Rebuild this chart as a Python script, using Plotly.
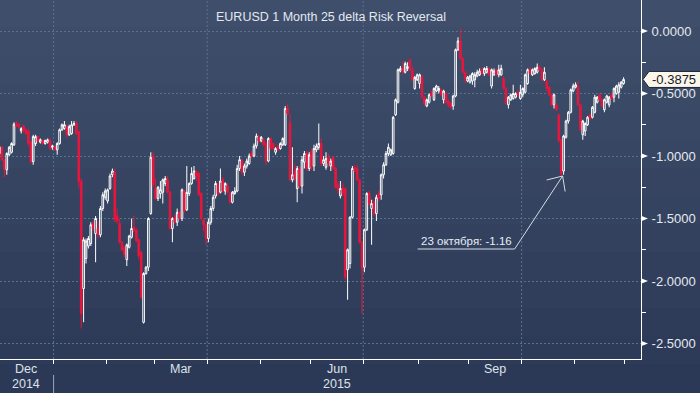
import pandas as pd
import plotly.graph_objects as go

# ------------------------------------------------------------------ data
title_text = "EURUSD 1 Month 25 delta Risk Reversal"
note_text = "23 октября: -1.16"
note_date = "2015-10-23"
last_value = -0.3875
last_label = "-0.3875"

# trading days (weekdays) shown on the chart
axis_dates = pd.bdate_range("2014-12-01", "2015-12-10")

# daily OHLC, one row per month (Dec 2014 ... Nov 2015)
open_ = [
    -0.98, -0.93, -1.03, -1.11, -0.99, -0.97, -0.91, -0.74, -0.745, -0.80, -0.76, -0.79, -0.80, -0.885, -1.045, -0.90, -0.845, -0.89, -0.875, -0.90, -0.89, -0.87, -0.93,
    -0.925, -0.95, -0.90, -0.79, -0.78, -0.765, -0.83, -0.82, -0.75, -0.74, -0.805, -1.20, -2.06, -1.82, -1.72, -1.70, -1.54, -1.62, -1.58, -1.63, -1.42, -1.33,
    -1.36, -1.26, -1.15, -1.13, -1.48, -1.54, -1.69, -1.73, -1.83, -1.73, -1.65, -1.57, -1.59, -1.67, -1.77, -2.33, -1.94, -1.89, -1.46, -1.00,
    -1.26, -1.34, -1.30, -1.29, -1.22, -1.19, -1.29, -1.58, -1.49, -1.53, -1.45, -1.50, -1.28, -1.43, -1.30, -1.22, -1.18, -1.13, -1.14, -1.30, -1.51, -1.55,
    -1.66, -1.53, -1.42, -1.32, -1.23, -1.29, -1.19, -1.28, -1.24, -1.30, -1.37, -1.30, -1.28, -1.10, -1.04, -1.13, -1.08, -1.06, -0.98, -1.00, -0.92, -0.85,
    -0.88, -0.87, -0.90, -1.04, -0.86, -0.90, -0.97, -0.92, -0.94, -0.91, -0.91, -0.62, -0.73, -1.19, -1.12, -1.26, -1.10, -1.24, -1.05, -0.98, -1.10,
    -0.96, -1.08, -0.95, -0.93, -0.90, -1.06, -1.09, -1.01, -1.08, -1.01, -1.10, -1.23, -1.32, -1.26, -1.26, -1.91, -1.86, -1.49, -1.09, -1.10, -1.19, -1.69,
    -1.89, -1.59, -1.30, -1.42, -1.37, -1.46, -1.30, -1.31, -1.15, -1.07, -0.98, -0.99, -0.98, -0.67, -0.57, -0.32, -0.30, -0.33, -0.30, -0.23, -0.31, -0.46, -0.39,
    -0.42, -0.365, -0.53, -0.60, -0.57, -0.49, -0.55, -0.48, -0.48, -0.47, -0.55, -0.50, -0.56, -0.58, -0.60, -0.52, -0.15, -0.08, -0.22, -0.33, -0.40,
    -0.41, -0.40, -0.39, -0.36, -0.35, -0.31, -0.34, -0.33, -0.30, -0.44, -0.35, -0.31, -0.35, -0.35, -0.38, -0.46, -0.59, -0.55, -0.54, -0.53, -0.49, -0.54,
    -0.51, -0.49, -0.42, -0.31, -0.35, -0.34, -0.33, -0.29, -0.31, -0.39, -0.40, -0.45, -0.51, -0.59, -0.59, -0.67, -0.87, -1.12, -0.85, -0.72, -0.65, -0.48,
    -0.45, -0.45, -0.59, -0.83, -0.80, -0.75, -0.67, -0.69, -0.65, -0.57, -0.51, -0.55, -0.63, -0.57, -0.59, -0.51, -0.53, -0.50, -0.49, -0.45, -0.42,
]
high = [
    -0.92, -0.92, -1.02, -0.97, -0.92, -0.89, -0.73, -0.72, -0.74, -0.77, -0.75, -0.78, -0.79, -0.88, -0.83, -0.83, -0.84, -0.86, -0.87, -0.87, -0.86, -0.86, -0.91,
    -0.92, -0.89, -0.78, -0.74, -0.72, -0.75, -0.75, -0.72, -0.72, -0.72, -0.80, -1.18, -1.65, -1.66, -1.64, -1.53, -1.52, -1.48, -1.52, -1.40, -1.29, -1.26,
    -1.26, -1.14, -1.10, -1.10, -1.42, -1.50, -1.68, -1.72, -1.70, -1.63, -1.50, -1.48, -1.58, -1.66, -1.76, -1.93, -1.88, -1.49, -0.97, -0.97,
    -1.18, -1.24, -1.20, -1.18, -1.16, -1.16, -1.28, -1.49, -1.47, -1.42, -1.44, -1.26, -1.27, -1.08, -1.21, -1.09, -1.08, -1.11, -1.13, -1.29, -1.50, -1.54,
    -1.50, -1.40, -1.31, -1.20, -1.21, -1.10, -1.17, -1.21, -1.22, -1.29, -1.28, -1.25, -1.07, -1.00, -1.02, -1.06, -1.02, -0.98, -0.96, -0.90, -0.82, -0.83,
    -0.84, -0.86, -0.89, -0.85, -0.85, -0.89, -0.93, -0.91, -0.89, -0.85, -0.60, -0.58, -0.66, -0.93, -1.06, -1.08, -1.08, -1.00, -0.96, -0.96, -0.97,
    -0.94, -0.91, -0.90, -0.74, -0.86, -1.00, -0.97, -0.98, -1.02, -1.00, -1.09, -1.20, -1.20, -1.22, -1.25, -1.74, -1.48, -1.08, -1.07, -1.07, -1.18, -1.68,
    -1.58, -1.29, -1.28, -1.35, -1.35, -1.31, -1.28, -1.14, -1.05, -0.96, -0.90, -0.94, -0.68, -0.54, -0.30, -0.28, -0.24, -0.245, -0.25, -0.22, -0.29, -0.36, -0.34,
    -0.34, -0.35, -0.52, -0.54, -0.50, -0.48, -0.45, -0.43, -0.44, -0.46, -0.47, -0.49, -0.55, -0.57, -0.51, -0.14, -0.05, 0.02, -0.21, -0.32, -0.36,
    -0.35, -0.33, -0.33, -0.31, -0.30, -0.29, -0.29, -0.28, -0.29, -0.30, -0.30, -0.30, -0.27, -0.27, -0.36, -0.45, -0.52, -0.50, -0.43, -0.49, -0.47, -0.43,
    -0.45, -0.34, -0.30, -0.29, -0.30, -0.29, -0.26, -0.27, -0.30, -0.29, -0.39, -0.44, -0.50, -0.50, -0.58, -0.66, -0.86, -0.83, -0.71, -0.64, -0.46, -0.42,
    -0.41, -0.40, -0.58, -0.71, -0.73, -0.68, -0.66, -0.60, -0.51, -0.52, -0.50, -0.54, -0.54, -0.51, -0.52, -0.50, -0.45, -0.43, -0.41, -0.40, -0.37,
]
low = [
    -1.00, -1.04, -1.17, -1.15, -1.00, -0.98, -0.92, -0.77, -0.78, -0.82, -0.81, -0.83, -0.92, -1.06, -1.07, -0.92, -0.89, -0.90, -0.91, -0.91, -0.90, -0.95, -0.95,
    -0.96, -0.99, -0.91, -0.80, -0.79, -0.85, -0.84, -0.83, -0.76, -0.83, -1.26, -2.38, -2.33, -1.86, -1.74, -1.72, -1.60, -1.85, -1.66, -1.65, -1.44, -1.35,
    -1.38, -1.27, -1.17, -1.53, -1.54, -1.70, -1.76, -1.81, -1.88, -1.74, -1.66, -1.61, -1.69, -1.83, -2.14, -2.34, -1.95, -1.92, -1.47, -1.25,
    -1.35, -1.36, -1.34, -1.38, -1.24, -1.30, -1.59, -1.69, -1.54, -1.56, -1.51, -1.52, -1.45, -1.44, -1.32, -1.23, -1.19, -1.20, -1.32, -1.51, -1.60, -1.71,
    -1.69, -1.55, -1.44, -1.34, -1.32, -1.30, -1.29, -1.31, -1.30, -1.38, -1.38, -1.31, -1.29, -1.12, -1.15, -1.16, -1.10, -1.07, -1.02, -1.01, -0.94, -0.90,
    -0.89, -0.92, -1.07, -1.05, -0.95, -0.95, -0.99, -0.96, -0.95, -0.92, -0.92, -0.67, -1.20, -1.21, -1.20, -1.37, -1.26, -1.30, -1.10, -1.12, -1.12,
    -1.11, -1.12, -0.97, -0.95, -1.08, -1.08, -1.11, -1.09, -1.12, -1.11, -1.26, -1.30, -1.34, -1.32, -1.99, -2.15, -1.90, -1.50, -1.13, -1.20, -1.70, -2.26,
    -1.93, -1.60, -1.40, -1.71, -1.48, -1.52, -1.36, -1.35, -1.18, -1.08, -1.00, -1.00, -0.99, -0.68, -0.58, -0.33, -0.34, -0.34, -0.32, -0.32, -0.40, -0.47, -0.40,
    -0.46, -0.54, -0.60, -0.61, -0.58, -0.53, -0.56, -0.49, -0.50, -0.52, -0.58, -0.58, -0.61, -0.62, -0.63, -0.53, -0.16, -0.23, -0.34, -0.42, -0.41,
    -0.42, -0.43, -0.45, -0.37, -0.36, -0.35, -0.36, -0.34, -0.36, -0.46, -0.36, -0.36, -0.37, -0.36, -0.47, -0.59, -0.62, -0.56, -0.55, -0.54, -0.53, -0.55,
    -0.53, -0.50, -0.43, -0.35, -0.36, -0.35, -0.34, -0.32, -0.40, -0.40, -0.49, -0.52, -0.60, -0.62, -0.64, -0.89, -1.16, -1.15, -0.86, -0.74, -0.66, -0.49,
    -0.46, -0.60, -0.80, -0.87, -0.84, -0.76, -0.71, -0.70, -0.66, -0.58, -0.56, -0.61, -0.65, -0.58, -0.61, -0.55, -0.57, -0.51, -0.54, -0.46, -0.43,
]
close = [
    -0.93, -1.03, -1.11, -0.98, -0.93, -0.90, -0.745, -0.76, -0.77, -0.78, -0.80, -0.82, -0.90, -1.045, -0.845, -0.845, -0.885, -0.87, -0.90, -0.875, -0.87, -0.94, -0.92,
    -0.945, -0.90, -0.79, -0.75, -0.75, -0.83, -0.765, -0.75, -0.74, -0.82, -1.205, -2.26, -1.67, -1.68, -1.66, -1.55, -1.58, -1.50, -1.63, -1.42, -1.31, -1.28,
    -1.27, -1.16, -1.12, -1.51, -1.52, -1.69, -1.75, -1.79, -1.71, -1.64, -1.58, -1.60, -1.68, -1.80, -2.13, -1.94, -1.89, -1.50, -1.01, -1.23,
    -1.34, -1.25, -1.27, -1.19, -1.18, -1.29, -1.58, -1.50, -1.53, -1.45, -1.50, -1.27, -1.44, -1.29, -1.22, -1.14, -1.12, -1.16, -1.31, -1.50, -1.55, -1.66,
    -1.53, -1.42, -1.33, -1.22, -1.30, -1.20, -1.28, -1.22, -1.29, -1.37, -1.29, -1.28, -1.10, -1.03, -1.13, -1.08, -1.04, -1.00, -1.00, -0.92, -0.84, -0.88,
    -0.85, -0.91, -1.04, -0.86, -0.94, -0.94, -0.94, -0.95, -0.90, -0.86, -0.62, -0.66, -1.19, -1.15, -1.18, -1.10, -1.24, -1.03, -0.98, -1.10, -0.99,
    -1.09, -0.94, -0.92, -0.90, -1.06, -1.03, -1.02, -1.06, -1.04, -1.10, -1.25, -1.27, -1.26, -1.30, -1.97, -1.75, -1.49, -1.10, -1.12, -1.19, -1.69, -1.90,
    -1.59, -1.30, -1.38, -1.38, -1.46, -1.33, -1.34, -1.15, -1.07, -0.98, -0.93, -0.95, -0.69, -0.55, -0.31, -0.30, -0.33, -0.26, -0.285, -0.31, -0.39, -0.37, -0.35,
    -0.35, -0.525, -0.58, -0.55, -0.51, -0.52, -0.46, -0.44, -0.46, -0.51, -0.48, -0.57, -0.59, -0.61, -0.52, -0.15, -0.08, -0.22, -0.33, -0.38, -0.37,
    -0.36, -0.34, -0.35, -0.33, -0.32, -0.34, -0.30, -0.30, -0.35, -0.31, -0.32, -0.35, -0.31, -0.30, -0.46, -0.58, -0.53, -0.51, -0.50, -0.50, -0.51, -0.49,
    -0.46, -0.35, -0.31, -0.34, -0.31, -0.30, -0.29, -0.31, -0.39, -0.33, -0.46, -0.51, -0.59, -0.51, -0.63, -0.88, -1.14, -0.84, -0.72, -0.65, -0.47, -0.44,
    -0.43, -0.59, -0.79, -0.72, -0.74, -0.69, -0.70, -0.61, -0.53, -0.53, -0.55, -0.60, -0.55, -0.52, -0.53, -0.54, -0.46, -0.44, -0.43, -0.41, -0.3875,
]

y_ticks = [0.0, -0.5, -1.0, -1.5, -2.0, -2.5]
y_tick_labels = ["0.0000", "-0.5000", "-1.0000", "-1.5000", "-2.0000", "-2.5000"]
y_minor_ticks = [-0.25, -0.75, -1.25, -1.75, -2.25]
month_label_months = [(2014, 12, "Dec"), (2015, 3, "Mar"), (2015, 6, "Jun"), (2015, 9, "Sep")]
year_label_months = [(2014, 12, "2014"), (2015, 6, "2015")]

# ------------------------------------------------------------------ geometry
n = len(close)
assert len(open_) == n and len(high) == n and len(low) == n
dates = axis_dates[:n]
xs = list(range(n))

W, H = 700, 393
PLOT_W, PLOT_H = 641, 359
X_RANGE = [0.167, 267.25]
Y_RANGE = [-2.624, 0.248]
PX_X = PLOT_W / (X_RANGE[1] - X_RANGE[0])
PX_Y = PLOT_H / (Y_RANGE[1] - Y_RANGE[0])

FONT = "Liberation Sans, Arial, sans-serif"
GRID = "#5b7192"
RED = "#e8163d"

# month boundaries (between last day of a month and first of the next)
boundaries = [i - 0.5 for i in range(1, len(axis_dates))
              if axis_dates[i].month != axis_dates[i - 1].month]
quarter_bounds = [i - 0.5 for i in range(1, len(axis_dates))
                  if axis_dates[i].month != axis_dates[i - 1].month and axis_dates[i].month in (1, 4, 7, 10)]
jan_bound = [i - 0.5 for i in range(1, len(axis_dates))
             if axis_dates[i].year != axis_dates[i - 1].year][0]


def month_center(y, m):
    idx = [i for i, d in enumerate(axis_dates) if d.year == y and d.month == m]
    return (idx[0] + idx[-1]) / 2


shapes = []
# background gradient bands
top_c, bot_c = (63, 78, 107), (43, 57, 86)
nb = 14
for k in range(nb):
    t = k / (nb - 1)
    c = tuple(round(top_c[j] + (bot_c[j] - top_c[j]) * t) for j in range(3))
    ytop = k * H / nb - 0.5
    ybot = (k + 1) * H / nb + 0.5
    shapes.append(dict(type="rect", xref="paper", yref="paper",
                       x0=-0.02, x1=W / PLOT_W + 0.02,
                       y0=(PLOT_H - ybot) / PLOT_H, y1=(PLOT_H - ytop) / PLOT_H,
                       fillcolor="rgb(%d,%d,%d)" % c, line=dict(width=0), layer="below"))

# vertical dotted grid at quarter boundaries
for b in quarter_bounds:
    shapes.append(dict(type="line", xref="x", yref="paper", x0=b, x1=b, y0=0, y1=1,
                       line=dict(color=GRID, width=1, dash="2px,2px"), layer="below"))

# year separator below the axis
shapes.append(dict(type="line", xref="x", yref="paper", x0=jan_bound, x1=jan_bound,
                   y0=(PLOT_H - 375) / PLOT_H, y1=(PLOT_H - 393) / PLOT_H,
                   line=dict(color="#9aa6b8", width=1)))

# arrow-like markers at the major y ticks
for v in y_ticks:
    hh = 2.8 / PX_Y
    shapes.append(dict(type="path", xref="paper", yref="y",
                       path="M 1,%f L %f,%f L 1,%f Z" % (v + hh, 1 + 7 / PLOT_W, v, v - hh),
                       fillcolor="#ffffff", line=dict(width=0)))

# last value tag
hh = 8 / PX_Y
x_tip = 1 + 2 / PLOT_W
x_body = 1 + 8 / PLOT_W
x_end = 1 + 62 / PLOT_W
shapes.append(dict(type="path", xref="paper", yref="y",
                   path="M %f,%f L %f,%f L %f,%f L %f,%f L %f,%f Z" % (
                       x_tip, last_value, x_body, last_value + hh, x_end, last_value + hh,
                       x_end, last_value - hh, x_body, last_value - hh),
                   fillcolor="#fbf5ea", line=dict(color="#1c2639", width=1)))

# note arrow pointing at the 23 Oct low
tip_i = list(dates).index(pd.Timestamp(note_date))
tip_x = tip_i + 0.6
tip_y = low[tip_i]
tail_x = tip_x - 48 / PX_X
tail_y = tip_y - 73 / PX_Y
under_x0 = tail_x - 97 / PX_X
ARROW = "#d4dbe4"
shapes.append(dict(type="line", xref="x", yref="y", x0=under_x0, x1=tail_x, y0=tail_y, y1=tail_y,
                   line=dict(color=ARROW, width=1)))
shapes.append(dict(type="line", xref="x", yref="y", x0=tail_x, x1=tip_x, y0=tail_y, y1=tip_y,
                   line=dict(color=ARROW, width=1)))
for dpx, dpy in [(-16, 4), (2.5, 15.5)]:
    shapes.append(dict(type="line", xref="x", yref="y", x0=tip_x, y0=tip_y,
                       x1=tip_x + dpx / PX_X, y1=tip_y - dpy / PX_Y,
                       line=dict(color=ARROW, width=1)))

annotations = [
    dict(text=title_text, xref="paper", yref="paper", x=331 / PLOT_W, y=(PLOT_H - 17) / PLOT_H,
         xanchor="center", yanchor="middle", showarrow=False,
         font=dict(family=FONT, size=12.5, color="#e3e9f0")),
    dict(text=note_text, xref="x", yref="y", x=(under_x0 + tail_x) / 2, y=tail_y,
         xanchor="center", yanchor="bottom", showarrow=False, yshift=0,
         font=dict(family=FONT, size=11.5, color="#e6edf6")),
    dict(text=last_label, xref="paper", yref="y", x=1 + 9 / PLOT_W, y=last_value,
         xanchor="left", yanchor="middle", showarrow=False,
         font=dict(family=FONT, size=13, color="#141b29")),
]
for (yy, mm, lab) in month_label_months:
    annotations.append(dict(text=lab, xref="x", yref="paper", x=month_center(yy, mm),
                            y=(PLOT_H - 369) / PLOT_H, xanchor="center", yanchor="middle",
                            showarrow=False, font=dict(family=FONT, size=12.5, color="#dde2ea")))
for (yy, mm, lab) in year_label_months:
    annotations.append(dict(text=lab, xref="x", yref="paper", x=month_center(yy, mm),
                            y=(PLOT_H - 384) / PLOT_H, xanchor="center", yanchor="middle",
                            showarrow=False, font=dict(family=FONT, size=12.5, color="#dde2ea")))

fig = go.Figure()
fig.add_trace(go.Candlestick(
    x=xs, open=open_, high=high, low=low, close=close,
    increasing=dict(line=dict(color="#ffffff", width=1), fillcolor="rgba(0,0,0,0)"),
    decreasing=dict(line=dict(color=RED, width=1), fillcolor=RED),
    whiskerwidth=0, hoverinfo="skip", showlegend=False,
))

fig.update_layout(
    width=W, height=H,
    margin=dict(l=0, r=W - PLOT_W, t=0, b=H - PLOT_H, pad=0),
    paper_bgcolor="rgb(%d,%d,%d)" % bot_c,
    plot_bgcolor="rgba(0,0,0,0)",
    boxgap=0.04,
    showlegend=False,
    shapes=shapes,
    annotations=annotations,
    xaxis=dict(range=X_RANGE, showgrid=False, zeroline=False, showline=True,
               linecolor="#ffffff", linewidth=1, ticks="outside", ticklen=4,
               tickcolor="#ffffff", tickwidth=1, tickvals=boundaries,
               showticklabels=False, rangeslider=dict(visible=False), fixedrange=True),
    yaxis=dict(range=Y_RANGE, side="right", showgrid=True, gridcolor=GRID, gridwidth=1,
               griddash="2px,2px", zeroline=False, showline=True, linecolor="#ffffff",
               linewidth=1, tickvals=y_ticks, ticktext=y_tick_labels, ticks="outside",
               ticklen=7, tickcolor="rgba(0,0,0,0)",
               tickfont=dict(family=FONT, size=13, color="#e6e9ef"),
               minor=dict(tickvals=y_minor_ticks, ticks="outside", ticklen=4,
                          tickcolor="#ffffff", tickwidth=1, showgrid=False),
               fixedrange=True),
)

fig.write_html(
    "out.html",
    config={"displayModeBar": False, "staticPlot": True},
    post_script="document.body.style.margin='0';document.body.style.padding='0';"
                "document.body.style.overflow='hidden';",
)
